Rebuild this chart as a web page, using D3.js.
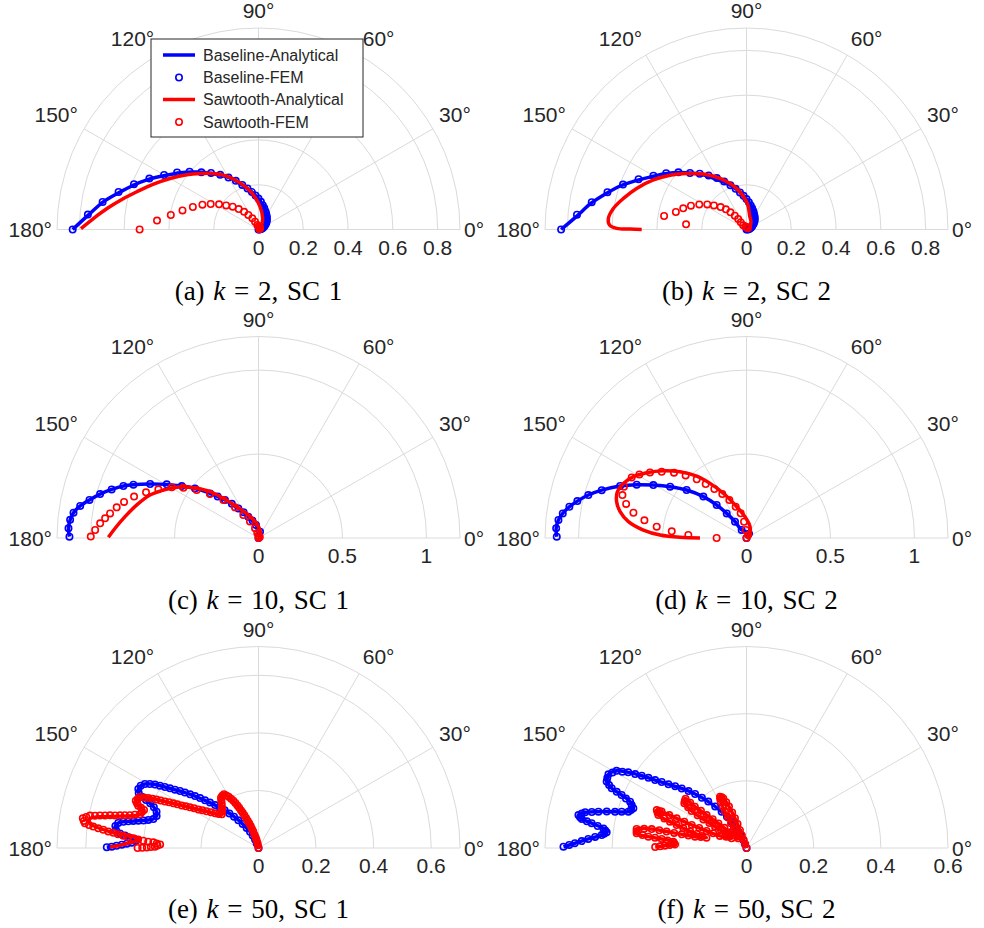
<!DOCTYPE html>
<html>
<head>
<meta charset="utf-8">
<script src="https://cdn.jsdelivr.net/npm/d3@7"></script>
<style>
  body { margin: 0; background: #fff; }
  svg { display: block; }
</style>
</head>
<body>
<svg id="fig" width="984" height="928"></svg>
<script>
// ---------------------------------------------------------------
// Directivity data: each series is a list of [theta (deg), radius]
// ---------------------------------------------------------------

// (a) k = 2, SC 1
const k2sc1BaselineAnalytical = [[0,0],[27,0.028],[57,0.068],[80,0.111],[98,0.163],[112,0.222],[121,0.275],[129,0.321],[137,0.376],[144,0.432],[150.5,0.487],[156,0.545],[160.4,0.592],[165.3,0.646],[169.8,0.703],[175,0.761],[180,0.830]];
const k2sc1BaselineFEM = [[0,0],[5,0.005],[10,0.01],[15,0.015],[20,0.02],[25,0.026],[30,0.031],[35,0.038],[40,0.045],[45,0.052],[50,0.058],[55,0.065],[60,0.072],[65,0.080],[70,0.088],[75,0.099],[80,0.110],[85,0.124],[90,0.138],[95,0.153],[100,0.170],[105,0.190],[110,0.212],[115,0.240],[120,0.268],[125,0.298],[130,0.330],[135,0.361],[140,0.402],[145,0.444],[150,0.487],[155,0.538],[160,0.592],[165,0.647],[170,0.707],[175,0.765],[180,0.830]];
const k2sc1SawtoothAnalytical = [[0,0],[48.6,0.017],[69.5,0.053],[86.2,0.102],[100.5,0.167],[111.6,0.224],[120.75,0.277],[128.8,0.321],[136.2,0.361],[142.6,0.403],[150,0.456],[156.6,0.511],[162.75,0.569],[167.6,0.625],[172.1,0.683],[176.1,0.738],[179.7,0.793]];
const k2sc1SawtoothFEM = [[10,0.004],[30,0.008],[50,0.010],[70,0.012],[90,0.015],[104.5,0.021],[114.1,0.038],[118.9,0.057],[125,0.079],[129.1,0.102],[134.1,0.127],[138.5,0.154],[143.4,0.180],[147.5,0.209],[151.9,0.242],[156.1,0.274],[161.1,0.310],[165.9,0.350],[170.6,0.397],[175,0.455],[180,0.531]];

// (b) k = 2, SC 2
const k2sc2BaselineAnalytical = [[0,0],[27,0.026],[55,0.066],[78,0.106],[96,0.155],[110,0.210],[121.2,0.262],[128.5,0.312],[136.5,0.368],[144.9,0.436],[150.9,0.485],[156.4,0.543],[161,0.597],[165.6,0.647],[170.5,0.705],[175.5,0.760],[180,0.828]];
const k2sc2BaselineFEM = [[0,0],[5,0.005],[10,0.009],[15,0.014],[20,0.019],[25,0.024],[30,0.029],[35,0.036],[40,0.043],[45,0.050],[50,0.057],[55,0.064],[60,0.071],[65,0.079],[70,0.088],[75,0.098],[80,0.109],[85,0.122],[90,0.136],[95,0.151],[100,0.168],[105,0.188],[110,0.210],[115,0.236],[120,0.265],[125,0.295],[130,0.325],[135,0.357],[140,0.397],[145,0.438],[150,0.480],[155,0.532],[160,0.587],[165,0.643],[170,0.702],[175,0.760],[180,0.828]];
const k2sc2SawtoothAnalytical = [[0,0],[30,0.015],[60,0.040],[75.4,0.059],[88.5,0.117],[103.7,0.189],[117.5,0.257],[128,0.314],[136.9,0.366],[144.6,0.419],[152,0.471],[159.5,0.524],[165.8,0.567],[171,0.602],[175.4,0.619],[178.1,0.612],[179.5,0.580],[179.8,0.520],[180,0.468]];
const k2sc2SawtoothFEM = [[40,0.008],[80,0.011],[110,0.014],[128.7,0.024],[128.3,0.041],[128.4,0.060],[130.1,0.081],[133,0.105],[135.7,0.129],[139.1,0.153],[143.5,0.181],[147.4,0.208],[152,0.239],[156.8,0.270],[161.5,0.298],[166.1,0.325],[170.7,0.373],[175.1,0.271]];

// (c) k = 10, SC 1
const k10sc1BaselineAnalytical = [[0,0],[53,0.015],[76.7,0.039],[100.9,0.079],[115.5,0.141],[124.2,0.213],[131.4,0.302],[137.4,0.392],[142,0.480],[145.9,0.552],[149.7,0.633],[153.5,0.721],[156.9,0.810],[158.95,0.862],[161.7,0.921],[164.5,0.979],[167.3,1.032],[169.8,1.079],[172.2,1.112],[174.5,1.127],[177.1,1.133],[179.6,1.126]];
const k10sc1BaselineFEM = [[0,0],[76.7,0.039],[100.9,0.079],[109,0.110],[115.5,0.141],[120,0.177],[124.2,0.213],[128,0.258],[131.4,0.302],[134.5,0.347],[137.4,0.392],[142,0.480],[145.9,0.552],[149.7,0.633],[153.5,0.721],[156.9,0.810],[158.95,0.862],[161.7,0.921],[164.5,0.979],[167.3,1.032],[169.8,1.079],[172.2,1.112],[174.5,1.127],[177.1,1.133],[179.6,1.126]];
const k10sc1SawtoothAnalytical = [[0,0],[40,0.012],[70,0.035],[97.1,0.088],[113.8,0.150],[124.9,0.227],[131.6,0.316],[136.3,0.399],[141.2,0.472],[145.7,0.542],[149.4,0.589],[153.2,0.634],[158.4,0.695],[164.8,0.751],[170.9,0.805],[176.1,0.856],[179.7,0.894]];
const k10sc1SawtoothFEM = [[0,0],[40,0.010],[90,0.015],[104,0.030],[109.9,0.061],[117.5,0.110],[123.4,0.164],[127.5,0.230],[132.8,0.308],[137.8,0.390],[142.2,0.466],[146.2,0.538],[149.7,0.598],[154.1,0.663],[157.9,0.723],[161.6,0.781],[165,0.829],[167.8,0.864],[170.6,0.896],[172.7,0.921],[174.7,0.947],[177.2,0.974],[179.5,0.999]];

// (d) k = 10, SC 2
const k10sc2BaselineAnalytical = [[0,0],[45,0.020],[90,0.035],[121.1,0.056],[125.1,0.119],[128.8,0.188],[132.1,0.265],[136.2,0.356],[141.3,0.457],[146.1,0.548],[150.4,0.638],[154.1,0.727],[157.65,0.814],[161.7,0.908],[164.8,0.976],[167.7,1.031],[170,1.071],[172.4,1.104],[174.5,1.125],[177.1,1.135],[179.6,1.130]];
const k10sc2BaselineFEM = [[0,0],[60,0.030],[121.1,0.056],[125.1,0.119],[128.8,0.188],[132.1,0.265],[136.2,0.356],[141.3,0.457],[146.1,0.548],[150.4,0.638],[154.1,0.727],[157.65,0.814],[161.7,0.908],[164.8,0.976],[167.7,1.031],[170,1.071],[172.4,1.104],[174.5,1.125],[177.1,1.135],[179.6,1.130]];
const k10sc2SawtoothAnalytical = [[0,0],[40,0.020],[72.8,0.071],[94,0.127],[107.4,0.195],[117.4,0.300],[123.7,0.391],[128.8,0.473],[135.1,0.559],[141,0.637],[146.8,0.710],[151.5,0.766],[156.1,0.802],[160.3,0.817],[164.4,0.803],[168.2,0.769],[172.1,0.710],[175.6,0.616],[178,0.515],[179.4,0.396],[180,0.277]];
const k10sc2SawtoothFEM = [[0,0],[60,0.020],[95,0.048],[98.7,0.098],[103.3,0.151],[109.1,0.197],[114.3,0.248],[118.8,0.299],[123.3,0.349],[127.1,0.403],[130.3,0.458],[134.2,0.520],[138,0.581],[142,0.641],[145.8,0.695],[149.3,0.742],[152.2,0.773],[157.3,0.791],[160.9,0.782],[164.2,0.745],[167.4,0.690],[170.2,0.617],[172.8,0.539],[174.9,0.447],[177,0.347],[180,0.178]];

// (e) k = 50, SC 1
const k50sc1BaselineAnalytical = [[110,0],[112,0.032],[117.5,0.064],[123.4,0.100],[128,0.138],[131.9,0.176],[135.3,0.212],[138.3,0.249],[140.7,0.285],[143,0.320],[145.1,0.354],[146.9,0.388],[148.5,0.422],[150.6,0.453],[152.1,0.463],[153.9,0.465],[155.3,0.458],[156.3,0.443],[157.6,0.407],[158.7,0.390],[160.4,0.376],[162.6,0.371],[164.6,0.379],[165.7,0.395],[167.2,0.428],[168.4,0.462],[169.9,0.495],[171.3,0.503],[172.8,0.499],[174,0.484],[175.4,0.448],[176,0.430],[176.7,0.426],[177.6,0.441],[178.6,0.475],[179.7,0.527]];
const k50sc1BaselineFEM = [[110,0],[111.4,0.017],[112,0.032],[114.7,0.048],[117.5,0.064],[120.6,0.081],[123.4,0.100],[126.1,0.119],[128,0.138],[130.1,0.157],[131.9,0.176],[133.7,0.194],[135.3,0.212],[136.9,0.231],[138.3,0.249],[139.5,0.267],[140.7,0.285],[141.9,0.302],[143,0.320],[144,0.337],[145.1,0.354],[146,0.371],[146.9,0.388],[147.7,0.405],[148.5,0.422],[149.5,0.438],[150.6,0.453],[152.1,0.463],[153.9,0.465],[155.3,0.458],[156.3,0.443],[156.9,0.425],[157.6,0.407],[158.7,0.390],[160.4,0.376],[162.6,0.371],[164.6,0.379],[165.7,0.395],[166.5,0.411],[167.2,0.428],[167.8,0.445],[168.4,0.462],[169,0.478],[169.9,0.495],[171.3,0.503],[172.8,0.499],[174,0.484],[174.7,0.466],[175.4,0.448],[176,0.430],[176.7,0.426],[177.6,0.441],[178.1,0.458],[178.6,0.475],[179.1,0.493],[179.5,0.510],[179.7,0.527]];
const k50sc1SawtoothAnalytical = [[100,0],[104.9,0.038],[109.6,0.081],[113.4,0.124],[116.4,0.165],[120.2,0.206],[122.7,0.222],[126.7,0.218],[133.1,0.184],[137.3,0.173],[144.7,0.221],[149.3,0.277],[152.3,0.334],[154.6,0.392],[156.7,0.448],[158.9,0.457],[160.6,0.443],[161.6,0.419],[164.1,0.428],[168.3,0.539],[170.1,0.594],[171.7,0.592],[174,0.507],[175.8,0.413],[178.3,0.464],[179.7,0.516]];
const k50sc1SawtoothFEM = [[100,0],[101.2,0.010],[102.3,0.019],[103.6,0.029],[104.9,0.038],[106.3,0.049],[107.6,0.060],[108.6,0.071],[109.6,0.081],[110.6,0.092],[111.6,0.102],[112.5,0.113],[113.4,0.124],[114.2,0.134],[114.9,0.144],[115.7,0.155],[116.4,0.165],[117.2,0.176],[118,0.186],[119.1,0.196],[120.2,0.206],[121.5,0.214],[122.7,0.222],[124.7,0.221],[126.7,0.218],[128.1,0.210],[129.5,0.201],[131.3,0.193],[133.1,0.184],[135.2,0.179],[137.3,0.173],[139.4,0.182],[141.4,0.193],[143.1,0.207],[144.7,0.221],[146,0.235],[147.3,0.248],[148.3,0.263],[149.3,0.277],[150.2,0.291],[151,0.305],[151.7,0.320],[152.3,0.334],[152.9,0.349],[153.5,0.363],[154.1,0.378],[154.6,0.392],[155.1,0.406],[155.6,0.420],[156.2,0.434],[156.7,0.448],[157.8,0.453],[158.9,0.457],[159.8,0.450],[160.6,0.443],[161.1,0.431],[161.6,0.419],[162.9,0.424],[164.1,0.428],[164.9,0.445],[165.7,0.461],[166.2,0.478],[166.7,0.494],[167.2,0.511],[167.6,0.528],[168,0.545],[168.4,0.562],[168.8,0.579],[169.1,0.596],[169.8,0.608],[170.4,0.619],[171.2,0.614],[171.9,0.609],[172.3,0.594],[172.6,0.579],[173,0.561],[173.3,0.543],[173.7,0.525],[174,0.507],[174.4,0.490],[174.8,0.472],[175.2,0.454],[175.6,0.436],[176,0.419],[176.4,0.401],[176.7,0.384],[176.9,0.366],[177.4,0.354],[177.9,0.342],[178.6,0.351],[179.3,0.360],[179.5,0.374],[179.7,0.388],[179.9,0.404],[180,0.420]];

// (f) k = 50, SC 2
const k50sc2BaselineAnalytical = [[110,0],[111.6,0.026],[116.6,0.054],[119.4,0.090],[124.4,0.131],[129.5,0.179],[133.6,0.222],[137.4,0.262],[140.8,0.300],[143.4,0.339],[145.4,0.379],[147.4,0.418],[149.3,0.450],[151.9,0.466],[154.6,0.461],[156.1,0.439],[157,0.404],[158.3,0.373],[160.7,0.357],[162.9,0.368],[164.6,0.406],[166.2,0.454],[167.5,0.492],[168.9,0.510],[170,0.498],[170.9,0.467],[172.2,0.430],[173.6,0.419],[174.9,0.433],[176.7,0.472],[178.4,0.511],[179.6,0.545]];
const k50sc2BaselineFEM = [[110,0],[110.8,0.013],[111.6,0.026],[114.1,0.040],[116.6,0.054],[118,0.072],[119.4,0.090],[121.9,0.110],[124.4,0.131],[127,0.155],[129.5,0.179],[131.6,0.200],[133.6,0.222],[135.5,0.242],[137.4,0.262],[139.1,0.281],[140.8,0.300],[142.1,0.320],[143.4,0.339],[144.4,0.359],[145.4,0.379],[146.4,0.398],[147.4,0.418],[148.4,0.434],[149.3,0.450],[150.6,0.458],[151.9,0.466],[153.3,0.464],[154.6,0.461],[155.4,0.450],[156.1,0.439],[156.6,0.421],[157,0.404],[157.7,0.388],[158.3,0.373],[159.5,0.365],[160.7,0.357],[161.8,0.362],[162.9,0.368],[163.8,0.387],[164.6,0.406],[165.4,0.430],[166.2,0.454],[166.9,0.473],[167.5,0.492],[168.2,0.501],[168.9,0.510],[169.5,0.504],[170,0.498],[170.5,0.482],[170.9,0.467],[171.6,0.448],[172.2,0.430],[172.9,0.424],[173.6,0.419],[174.3,0.426],[174.9,0.433],[175.8,0.452],[176.7,0.472],[177.6,0.491],[178.4,0.511],[179,0.528],[179.6,0.545]];
const k50sc2SawtoothAnalytical = [[110,0],[109.5,0.025],[109.9,0.057],[111.2,0.095],[112.9,0.134],[115,0.163],[117.3,0.172],[119.1,0.158],[120.6,0.126],[122.1,0.087],[125.7,0.050],[130.2,0.038],[136.5,0.068],[138.8,0.111],[140.4,0.154],[141.3,0.197],[141.1,0.233],[144.3,0.228],[146,0.197],[146.4,0.154],[145.9,0.113],[145.4,0.072],[146.9,0.053],[155.6,0.087],[156.9,0.129],[157.2,0.177],[157,0.226],[156.8,0.275],[157.1,0.290],[159.5,0.280],[161,0.241],[162.7,0.197],[164.3,0.154],[165.5,0.123],[167.6,0.157],[168.1,0.197],[168.4,0.243],[168.7,0.288],[170.2,0.332],[172.4,0.330],[173.4,0.294],[173.9,0.254],[175.1,0.219],[177.1,0.213],[178.4,0.243],[179.4,0.272]];
const k50sc2SawtoothFEM = [[110,0],[109.8,0.012],[109.5,0.025],[109.7,0.041],[109.9,0.057],[110.5,0.076],[111.2,0.095],[112,0.114],[112.9,0.134],[113.9,0.149],[115,0.163],[116.1,0.168],[117.3,0.172],[118.2,0.166],[119.1,0.158],[119.8,0.142],[120.6,0.126],[121.3,0.106],[122.1,0.087],[123.9,0.068],[125.7,0.050],[127.9,0.043],[130.2,0.038],[133.3,0.052],[136.5,0.068],[137.6,0.089],[138.8,0.111],[139.6,0.132],[140.4,0.154],[140.8,0.175],[141.3,0.197],[141.2,0.215],[141.1,0.233],[142.7,0.231],[144.3,0.228],[145.1,0.212],[146,0.197],[146.2,0.175],[146.4,0.154],[146.1,0.133],[145.9,0.113],[145.6,0.092],[145.4,0.072],[146.1,0.062],[146.9,0.053],[151.2,0.069],[155.6,0.087],[156.2,0.108],[156.9,0.129],[157,0.153],[157.2,0.177],[157.1,0.201],[157,0.226],[156.9,0.250],[156.8,0.275],[157,0.282],[157.1,0.290],[158.3,0.285],[159.5,0.280],[160.2,0.260],[161,0.241],[161.8,0.219],[162.7,0.197],[163.5,0.175],[164.3,0.154],[164.9,0.138],[165.5,0.123],[166.5,0.140],[167.6,0.157],[167.8,0.177],[168.1,0.197],[168.2,0.220],[168.4,0.243],[168.5,0.265],[168.7,0.288],[169.4,0.310],[170.2,0.332],[171.3,0.331],[172.4,0.330],[172.9,0.312],[173.4,0.294],[173.6,0.274],[173.9,0.254],[174.5,0.236],[175.1,0.219],[176.1,0.216],[177.1,0.213],[177.7,0.228],[178.4,0.243],[178.9,0.257],[179.4,0.272]];

// Axes: angular ticks, radial limits / ticks, legend and captions
const thetaTicks = [0, 30, 60, 90, 120, 150, 180];
const radialLimits = [0.9, 0.9, 1.2, 1.2, 0.7, 0.6];
const radialTicks = [
  [0, 0.2, 0.4, 0.6, 0.8],
  [0, 0.2, 0.4, 0.6, 0.8],
  [0, 0.5, 1],
  [0, 0.5, 1],
  [0, 0.2, 0.4, 0.6],
  [0, 0.2, 0.4, 0.6]
];
const seriesNames = ["Baseline-Analytical", "Baseline-FEM", "Sawtooth-Analytical", "Sawtooth-FEM"];
const captionLetters = ["a", "b", "c", "d", "e", "f"];
const captionK = [2, 2, 10, 10, 50, 50];
const captionSC = [1, 2, 1, 2, 1, 2];

const panelSeries = [
  [k2sc1BaselineAnalytical, k2sc1BaselineFEM, k2sc1SawtoothAnalytical, k2sc1SawtoothFEM],
  [k2sc2BaselineAnalytical, k2sc2BaselineFEM, k2sc2SawtoothAnalytical, k2sc2SawtoothFEM],
  [k10sc1BaselineAnalytical, k10sc1BaselineFEM, k10sc1SawtoothAnalytical, k10sc1SawtoothFEM],
  [k10sc2BaselineAnalytical, k10sc2BaselineFEM, k10sc2SawtoothAnalytical, k10sc2SawtoothFEM],
  [k50sc1BaselineAnalytical, k50sc1BaselineFEM, k50sc1SawtoothAnalytical, k50sc1SawtoothFEM],
  [k50sc2BaselineAnalytical, k50sc2BaselineFEM, k50sc2SawtoothAnalytical, k50sc2SawtoothFEM]
];

// ---------------------------------------------------------------
// Layout and styling
// ---------------------------------------------------------------
const svg = d3.select("#fig");
svg.append("rect").attr("width", 984).attr("height", 928).attr("fill", "#fff");

const OUTER = 201.5;                    // radius of the outer ring in px
const colCenters = [258.5, 746.5];
const rowCenters = [229.5, 538, 848];
const captionBaselines = [300, 609, 918];
const GRID = "#dadada";
const TEXT = "#262626";
const BLUE = "#0000ff";
const RED = "#ff0000";
const seriesColor = [BLUE, BLUE, RED, RED];
const sansFont = "'Liberation Sans', Arial, Helvetica, sans-serif";
const serifFont = "'Liberation Serif', 'Times New Roman', serif";

const toRad = deg => deg * Math.PI / 180;
// d3 radial angle: 0 at 12 o'clock, clockwise; polar theta: 0 at 3 o'clock, counter-clockwise
const radialAngle = deg => toRad(90 - deg);

const fmt = v => (v === 0 ? "0" : String(v));

panelSeries.forEach((series, i) => {
  const cx = colCenters[i % 2];
  const cy = rowCenters[Math.floor(i / 2)];
  const rScale = d3.scaleLinear().domain([0, radialLimits[i]]).range([0, OUTER]);
  const g = svg.append("g").attr("transform", `translate(${cx},${cy})`);

  // grid rings (tick rings plus the outer boundary)
  const rings = radialTicks[i].filter(t => t > 0 && t < radialLimits[i]).concat([radialLimits[i]]);
  g.append("g").selectAll("path").data(rings).join("path")
    .attr("d", t => {
      const p = d3.path();
      p.arc(0, 0, rScale(t), Math.PI, 2 * Math.PI, false);
      return p.toString();
    })
    .attr("fill", "none").attr("stroke", GRID).attr("stroke-width", 1);

  // spokes
  g.append("g").selectAll("line").data(thetaTicks).join("line")
    .attr("x1", 0).attr("y1", 0)
    .attr("x2", d => OUTER * Math.cos(toRad(d)))
    .attr("y2", d => -OUTER * Math.sin(toRad(d)))
    .attr("stroke", GRID).attr("stroke-width", 1);

  const line = d3.lineRadial()
    .angle(d => radialAngle(d[0]))
    .radius(d => rScale(d[1]))
    .curve(d3.curveCatmullRom.alpha(0.5));

  const drawLine = (data, color) => {
    g.append("path").datum(data)
      .attr("d", line)
      .attr("fill", "none").attr("stroke", color)
      .attr("stroke-width", 3.5)
      .attr("stroke-linejoin", "round").attr("stroke-linecap", "butt");
  };
  const drawMarkers = (data, color) => {
    g.append("g").selectAll("circle").data(data).join("circle")
      .attr("cx", d => d3.pointRadial(radialAngle(d[0]), rScale(d[1]))[0])
      .attr("cy", d => d3.pointRadial(radialAngle(d[0]), rScale(d[1]))[1])
      .attr("r", 3.2)
      .attr("fill", "none").attr("stroke", color).attr("stroke-width", 1.6);
  };

  drawLine(series[0], seriesColor[0]);
  drawMarkers(series[1], seriesColor[1]);
  drawLine(series[2], seriesColor[2]);
  drawMarkers(series[3], seriesColor[3]);

  // angular labels
  const lab = g.append("g").attr("font-family", sansFont).attr("font-size", 21).attr("fill", TEXT);
  thetaTicks.forEach(deg => {
    const rr = OUTER + 7;
    let x = rr * Math.cos(toRad(deg)), y = -rr * Math.sin(toRad(deg));
    let anchor = "middle", dy = "0";
    if (deg === 0) { anchor = "start"; x = OUTER + 4; dy = "0.36em"; }
    else if (deg === 180) { anchor = "end"; x = -(OUTER + 5); dy = "0.36em"; }
    else if (deg === 90) { y = -(OUTER + 10); }
    else if (deg < 90) { anchor = "start"; y -= 3; }
    else { anchor = "end"; y -= 3; }
    lab.append("text").attr("x", x).attr("y", y).attr("dy", dy)
      .attr("text-anchor", anchor).text(`${deg}°`);
  });

  // radial tick labels along the 0° spoke
  lab.selectAll("text.rt").data(radialTicks[i]).join("text")
    .attr("class", "rt")
    .attr("x", d => rScale(d)).attr("y", 25)
    .attr("text-anchor", "middle").text(fmt);

  // caption
  const cap = svg.append("text")
    .attr("x", cx).attr("y", captionBaselines[Math.floor(i / 2)])
    .attr("text-anchor", "middle")
    .attr("font-family", serifFont).attr("font-size", 27).attr("fill", "#000")
    .attr("word-spacing", 2);
  cap.append("tspan").text(`(${captionLetters[i]}) `);
  cap.append("tspan").attr("font-style", "italic").text("k");
  cap.append("tspan").text(` = ${captionK[i]}, SC ${captionSC[i]}`);
});

// ---------------------------------------------------------------
// Legend (top-left panel)
// ---------------------------------------------------------------
const leg = svg.append("g").attr("transform", "translate(151,39)");
leg.append("rect").attr("width", 212).attr("height", 98)
  .attr("fill", "#fff").attr("stroke", TEXT).attr("stroke-width", 1);
const rowY = [16, 38.5, 60.5, 83];
seriesNames.forEach((name, j) => {
  const y = rowY[j];
  if (j % 2 === 0) {
    leg.append("line").attr("x1", 12).attr("x2", 44).attr("y1", y).attr("y2", y)
      .attr("stroke", seriesColor[j]).attr("stroke-width", 3.5);
  } else {
    leg.append("circle").attr("cx", 28).attr("cy", y).attr("r", 3.2)
      .attr("fill", "none").attr("stroke", seriesColor[j]).attr("stroke-width", 1.6);
  }
  leg.append("text").attr("x", 52).attr("y", y).attr("dy", "0.35em")
    .attr("font-family", sansFont).attr("font-size", 16).attr("fill", TEXT)
    .text(name);
});
</script>
</body>
</html>
